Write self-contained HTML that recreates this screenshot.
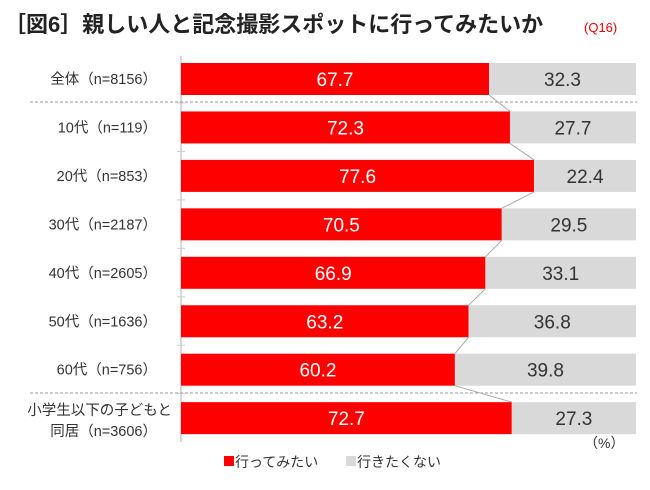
<!DOCTYPE html>
<html><head><meta charset="utf-8"><style>
body{margin:0;background:#fff;width:650px;height:485px;overflow:hidden;font-family:"Liberation Sans","Noto Sans CJK JP",sans-serif}
</style></head><body>
<svg width="650" height="485" id="c" font-family="Liberation Sans, Noto Sans CJK JP, sans-serif">
<text x="4" y="32" font-size="22" font-weight="bold" fill="#222">［図6］親しい人と記念撮影スポットに行ってみたいか</text>
<text x="584" y="32" font-size="13" fill="#e00">(Q16)</text>
<line x1="181" y1="56" x2="181" y2="442" stroke="#ccc" stroke-width="1.5"/>
<line x1="30" y1="102" x2="637" y2="102" stroke="#999" stroke-dasharray="3,2"/>
<line x1="30" y1="393" x2="637" y2="393" stroke="#999" stroke-dasharray="3,2"/>
<g id="bars"></g>
<text x="584" y="448" font-size="14" fill="#333">（%）</text>
<rect x="224" y="456" width="10" height="10" fill="#f00"/>
<text x="235" y="467" font-size="14" fill="#333">行ってみたい</text>
<rect x="346" y="456" width="10" height="10" fill="#d9d9d9"/>
<text x="357" y="467" font-size="14" fill="#333">行きたくない</text>
</svg>
<script>
const categories=["全体（n=8156）","10代（n=119）","20代（n=853）","30代（n=2187）","40代（n=2605）","50代（n=1636）","60代（n=756）","小学生以下の子どもと|同居（n=3606）"];
const yesValues=[67.7,72.3,77.6,70.5,66.9,63.2,60.2,72.7];
const noValues=[32.3,27.7,22.4,29.5,33.1,36.8,39.8,27.3];
const NS="http://www.w3.org/2000/svg";
const g=document.getElementById('bars');
const x0=181,W=455,top0=63,step=48.45,bh=32;
const xs=v=>x0+v/100*W;
const yt=i=>top0+i*step;
function mk(t,a){const e=document.createElementNS(NS,t);for(const k in a)e.setAttribute(k,a[k]);g.appendChild(e);return e;}
categories.forEach((c,i)=>{
  const y=yt(i);
  const r=mk('rect',{x:x0,y:y,width:xs(yesValues[i])-x0,height:bh,fill:'#ff0000'});
  
  
  const r2=mk('rect',{x:xs(yesValues[i]),y:y,width:noValues[i]/100*W,height:bh,fill:'#d9d9d9'});
  
  
  const t1=mk('text',{x:(x0+xs(yesValues[i]))/2,y:y+bh/2+7,'font-size':19,fill:'#fff','text-anchor':'middle'});
  t1.textContent=yesValues[i].toFixed(1);
  
  
  const t2=mk('text',{x:(xs(yesValues[i])+x0+W)/2,y:y+bh/2+7,'font-size':19,fill:'#333','text-anchor':'middle'});
  t2.textContent=noValues[i].toFixed(1);
  
  
  const parts=c.split('|');
  parts.forEach((p,j)=>{
    const ty=parts.length>1? y+bh/2-3+j*21 : y+bh/2+5;
    const tl=mk('text',{x:parts.length>1&&j===0?172:157,y:ty,'font-size':14.5,fill:'#333','text-anchor':'end'});
    tl.textContent=p;
    
    
  });
  if(i<categories.length-1){
    const l=mk('line',{x1:xs(yesValues[i]),y1:y+bh,x2:xs(yesValues[i+1]),y2:yt(i+1),stroke:'#aaa','stroke-width':1});
    
    
    const tk=mk('line',{x1:177,y1:y+bh+8,x2:185,y2:y+bh+8,stroke:'#ccc'});
    
    
  }
});
</script>
</body></html>
